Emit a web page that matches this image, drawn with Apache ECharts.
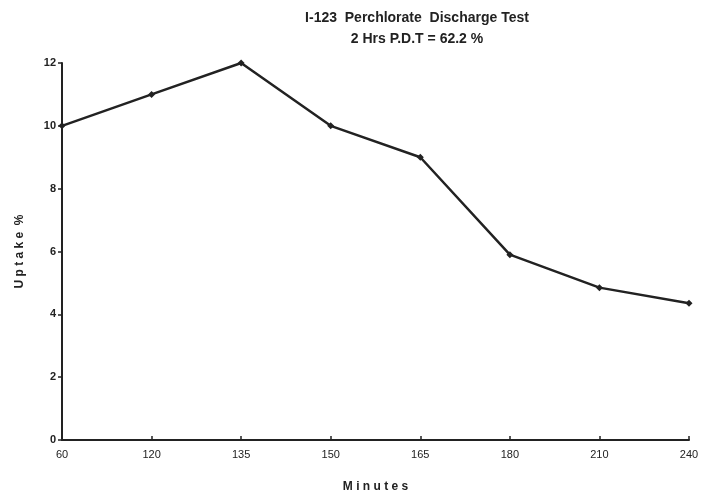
<!DOCTYPE html>
<html><head><meta charset="utf-8">
<script src="https://cdn.jsdelivr.net/npm/echarts@6/dist/echarts.min.js"></script>
<style>html,body{margin:0;padding:0;background:#fff}#c{width:709px;height:492px}</style>
</head><body><div id="c"></div>
<script>
const categories = ['60','120','135','150','165','180','210','240'];
const uptake = [10, 11, 12, 10, 9, 5.9, 4.85, 4.35];
const titleLines = ['I-123  Perchlorate  Discharge Test', '2 Hrs P.D.T = 62.2 %'];
const yName = 'U p t a k e  %';
const xName = 'M i n u t e s';

const chart = echarts.init(document.getElementById('c'));
chart.setOption({
  backgroundColor: '#fff',
  animation: false,
  title: {
    text: titleLines.join('\n'),
    left: 412, top: 3, textAlign: 'center',
    textStyle: {fontFamily: 'Liberation Sans', fontSize: 14, fontWeight: 'bold', color: '#222', lineHeight: 21}
  },
  grid: {left: 62, right: 20, top: 63, bottom: 52, outerBoundsMode: 'none', containLabel: false},
  xAxis: {
    type: 'category', data: categories, boundaryGap: false,
    name: xName, nameLocation: 'middle', nameGap: 41,
    nameTextStyle: {fontFamily: 'Liberation Sans', fontSize: 12, fontWeight: 'bold', color: '#222'},
    axisLine: {lineStyle: {color: '#222', width: 2}},
    axisTick: {inside: true, length: 4, lineStyle: {color: '#222', width: 1.5}},
    axisLabel: {fontFamily: 'Liberation Sans', fontSize: 11, color: '#222', margin: 9},
    splitLine: {show: false}
  },
  yAxis: {
    type: 'value', min: 0, max: 12, interval: 2,
    name: yName, nameLocation: 'middle', nameGap: 36,
    nameTextStyle: {fontFamily: 'Liberation Sans', fontSize: 12, fontWeight: 'bold', color: '#222'},
    axisLine: {show: true, lineStyle: {color: '#222', width: 2}},
    axisTick: {show: true, length: 4, lineStyle: {color: '#222', width: 1.5}},
    axisLabel: {fontFamily: 'Liberation Sans', fontSize: 11, fontWeight: 'bold', color: '#222', margin: 6},
    splitLine: {show: false}
  },
  series: [{
    type: 'line', data: uptake,
    symbol: 'diamond', symbolSize: 7,
    lineStyle: {color: '#222', width: 2.5},
    itemStyle: {color: '#222'}
  }]
});
</script></body></html>
